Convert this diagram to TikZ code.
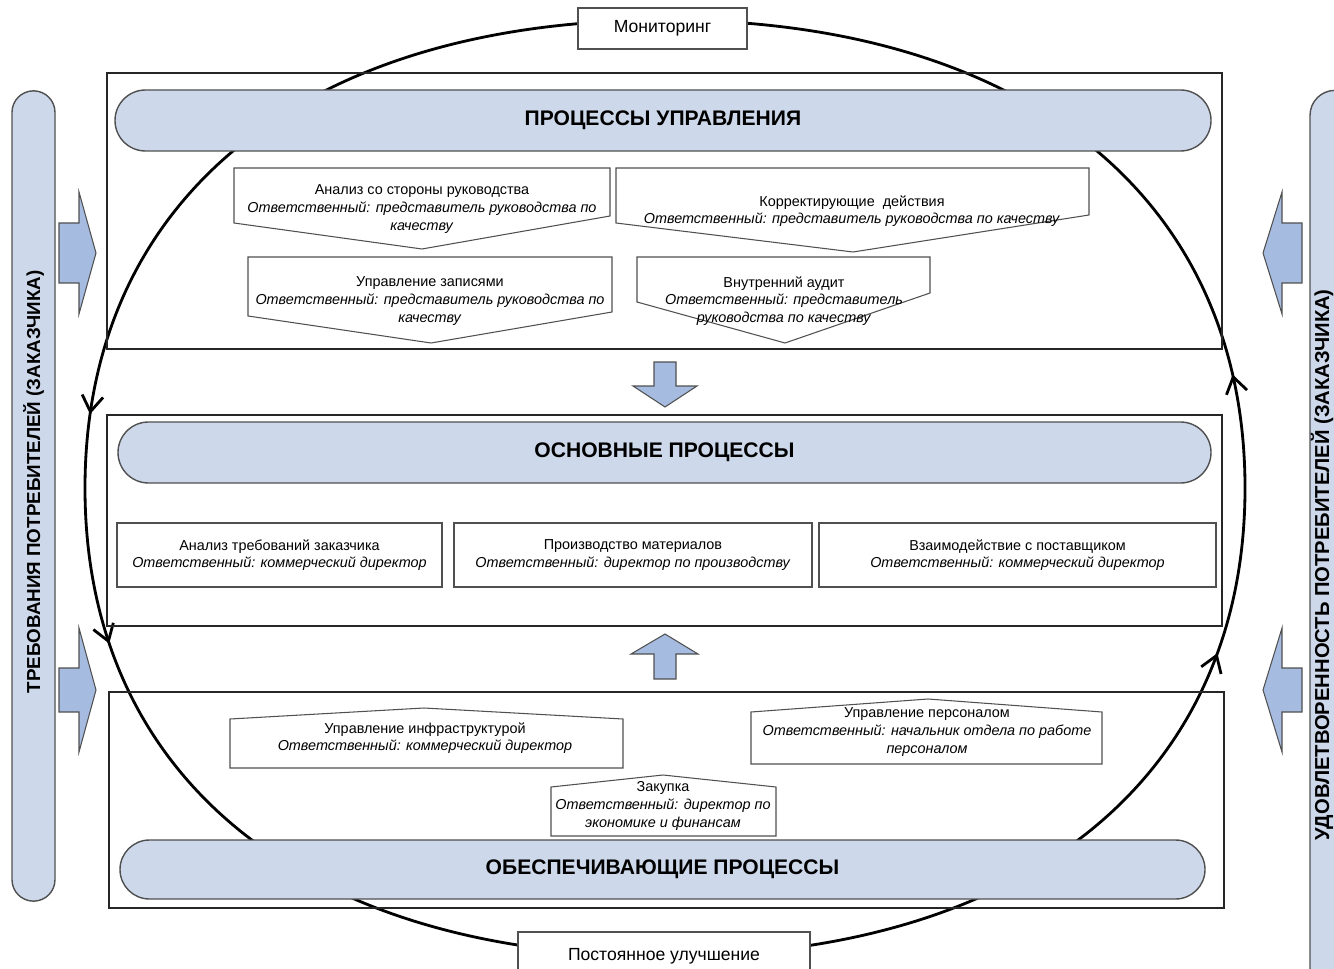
\documentclass[tikz,border=0pt]{standalone}
\usepackage{fontspec}
\setmainfont{Liberation Sans}
\usepackage{tikz}
\usetikzlibrary{shapes.misc,positioning,calc,arrows.meta,decorations.markings}

\definecolor{barblue}{RGB}{205,217,235}
\definecolor{arrowblue}{RGB}{165,188,224}
\definecolor{edgegray}{RGB}{80,80,80}

\begin{document}
\begin{tikzpicture}[x=0.02cm, y=-0.02cm,
    sz/.style 2 args={minimum width=#1*0.02cm, minimum height=#2*0.02cm},
    frame/.style={draw=black!85, line width=1pt},
    bar/.style={rounded rectangle, draw=edgegray, fill=barblue, line width=0.8pt, inner sep=0pt,
        font=\bfseries\fontsize{12}{14}\selectfont},
    sidebar/.style={rounded rectangle, draw=edgegray, fill=barblue, line width=0.8pt, rotate=90},
    sidetext/.style={rotate=90, inner sep=0pt, font=\bfseries\fontsize{10.7}{12}\selectfont},
    pent/.style={draw=edgegray, fill=white, line width=0.6pt},
    proc/.style={align=center, inner sep=0pt, font=\fontsize{8.2}{10}\selectfont},
    procbox/.style={proc, draw=edgegray, fill=white, line width=0.6pt},
    tag/.style={draw=edgegray, fill=white, line width=0.6pt, font=\fontsize{10}{12}\selectfont},
    blockarrow/.style={draw=edgegray, fill=arrowblue, line width=0.6pt},
    loopline/.style={line width=1.6pt, decoration={markings,
        mark=at position 0.228 with {\arrow{Straight Barb[length=9pt, width=12pt]}},
        mark=at position 0.297 with {\arrow{Straight Barb[length=9pt, width=12pt]}},
        mark=at position 0.700 with {\arrow{Straight Barb[length=9pt, width=12pt]}},
        mark=at position 0.784 with {\arrow{Straight Barb[length=9pt, width=12pt]}}},
        postaction={decorate}}
]
    \useasboundingbox (0,0) rectangle (1334,969);

    % Improvement loop
    \coordinate (looptop) at (665,20);
    \coordinate (loopleft) at (85,488);
    \coordinate (loopbottom) at (665,956);
    \coordinate (loopright) at (1245,488);
    \draw[loopline] (looptop) .. controls (305,20) and (85,198) .. (loopleft)
        .. controls (85,778) and (305,956) .. (loopbottom)
        .. controls (1025,956) and (1245,778) .. (loopright)
        .. controls (1245,198) and (1025,20) .. (looptop);

    % Frames
    \draw[frame] (107,73) rectangle (1222,349);
    \draw[frame] (107,415) rectangle (1222,626);
    \draw[frame] (109,692) rectangle (1224,908);

    % Side bars
    \node[sidebar, sz={822}{43}] (reqbar) at (33.5,496) {};
    \node[sidetext] (reqtext) at (33.5,482) {ТРЕБОВАНИЯ ПОТРЕБИТЕЛЕЙ (ЗАКАЗЧИКА)};
    \node[sidebar, sz={915}{50}] (satbar) at (1335,542) {};
    \node[sidetext, font=\bfseries\fontsize{11.5}{13}\selectfont] (sattext) at (1322,565) {УДОВЛЕТВОРЕННОСТЬ ПОТРЕБИТЕЛЕЙ (ЗАКАЗЧИКА)};

    % Side arrows
    \draw[blockarrow] (59,223) -- (79,223) -- (79,192) -- (96,253) -- (79,314) -- (79,283) -- (59,283) -- cycle;
    \draw[blockarrow] (59,668) -- (79,668) -- (79,628) -- (96,690) -- (79,752) -- (79,712) -- (59,712) -- cycle;
    \draw[blockarrow] (1302,223) -- (1282,223) -- (1282,192) -- (1263,253) -- (1282,314) -- (1282,283) -- (1302,283) -- cycle;
    \draw[blockarrow] (1302,668) -- (1282,668) -- (1282,628) -- (1263,690) -- (1282,752) -- (1282,712) -- (1302,712) -- cycle;

    % Management processes
    \node[bar, sz={1096}{61}] (mgmtbar) at (663,120.5) {ПРОЦЕССЫ УПРАВЛЕНИЯ};
    \draw[pent] (234,168) -- (610,168) -- (610,216) -- (422,249) -- (234,223) -- cycle;
    \node[proc] (review) at (422,209) {Анализ со стороны руководства\\
        \textit{Ответственный: представитель руководства по}\\ \textit{качеству}};
    \draw[pent] (616,168) -- (1089,168) -- (1089,215) -- (853,252) -- (616,223) -- cycle;
    \node[proc] (corrective) at (852,211) {Корректирующие~ действия\\
        \textit{Ответственный: представитель руководства по качеству}};
    \draw[pent] (248,257) -- (612,257) -- (612,312) -- (431,343) -- (248,316) -- cycle;
    \node[proc] (records) at (430,301) {Управление записями\\
        \textit{Ответственный: представитель руководства по}\\ \textit{качеству}};
    \draw[pent] (637,257) -- (930,257) -- (930,293) -- (785,343) -- (637,302) -- cycle;
    \node[proc] (audit) at (784,301) {Внутренний аудит\\
        \textit{Ответственный: представитель}\\ \textit{руководства по качеству}};

    % Core processes
    \node[bar, sz={1093}{61}] (corebar) at (664.5,452.5) {ОСНОВНЫЕ ПРОЦЕССЫ};
    \node[procbox, sz={325}{64}] (demands) at (279.5,555) {Анализ требований заказчика\\
        \textit{Ответственный: коммерческий директор}};
    \node[procbox, sz={358}{64}] (production) at (633,555) {Производство материалов\\
        \textit{Ответственный: директор по производству}};
    \node[procbox, sz={397}{64}] (supplier) at (1017.5,555) {Взаимодействие с поставщиком\\
        \textit{Ответственный: коммерческий директор}};

    % Supporting processes
    \draw[pent] (230,719) -- (424,708) -- (623,719) -- (623,768) -- (230,768) -- cycle;
    \node[proc] (infra) at (425,738) {Управление инфраструктурой\\
        \textit{Ответственный: коммерческий директор}};
    \draw[pent] (751,712) -- (928,699) -- (1102,712) -- (1102,764) -- (751,764) -- cycle;
    \node[proc] (staff) at (927,732) {Управление персоналом\\
        \textit{Ответственный: начальник отдела по работе}\\ \textit{персоналом}};
    \draw[pent] (551,787) -- (663,775) -- (776,787) -- (776,836) -- (551,836) -- cycle;
    \node[proc] (purchase) at (663,806) {Закупка\\
        \textit{Ответственный: директор по}\\ \textit{экономике и финансам}};
    \node[bar, sz={1085}{59}] (supbar) at (662.5,869.5) {ОБЕСПЕЧИВАЮЩИЕ ПРОЦЕССЫ};

    % Flow between levels
    \draw[blockarrow] (654,362) -- (676,362) -- (676,386) -- (697,386) -- (665,407) -- (633,386) -- (654,386) -- cycle;
    \draw[blockarrow] (654,679) -- (676,679) -- (676,654) -- (698,654) -- (665,634) -- (631,654) -- (654,654) -- cycle;

    % Loop labels
    \node[tag, sz={169}{41}] (monitor) at (662.5,28.5) {Мониторинг};
    \node[tag, sz={292}{48}] (improve) at (664,956) {Постоянное улучшение};
\end{tikzpicture}
\end{document}
